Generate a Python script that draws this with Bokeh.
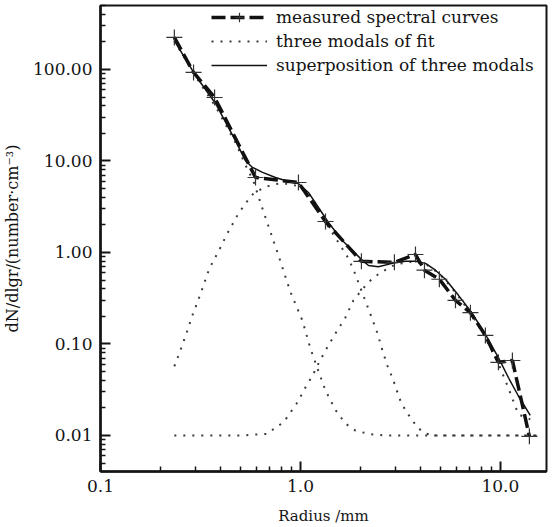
from bokeh.plotting import figure
from bokeh.models import FixedTicker, PrintfTickFormatter, Legend, LegendItem
from bokeh.embed import file_html
from bokeh.resources import INLINE

# ---- data ----
radius_measured = [0.234, 0.292, 0.372, 0.596, 0.977, 1.334, 2.018, 2.95, 3.76, 4.17,
                   4.95, 5.96, 7.08, 8.41, 9.77, 11.48, 13.96]
dn_measured = [224, 92.7, 49.4, 6.6, 5.82, 2.18, 0.80, 0.78, 0.95, 0.64,
               0.51, 0.30, 0.22, 0.124, 0.063, 0.066, 0.0098]

radius_mode1 = [0.234, 0.2985, 0.376, 0.473, 0.531, 0.582, 0.653, 0.776, 0.891, 1.023,
                1.122, 1.216, 1.334, 1.496, 1.679, 1.884, 2.24, 2.66, 16.0]
dn_mode1 = [205, 84, 39.4, 15.9, 9.0, 6.0, 2.8, 0.93, 0.37, 0.18,
            0.089, 0.054, 0.031, 0.019, 0.0135, 0.0113, 0.0103, 0.0100, 0.0100]

radius_mode2 = [0.234, 0.251, 0.272, 0.288, 0.305, 0.324, 0.343, 0.367, 0.385, 0.43,
                0.49, 0.54, 0.582, 0.653, 0.724, 0.80, 0.88, 0.977, 1.096, 1.23,
                1.334, 1.48, 1.62, 1.738, 1.88, 2.04, 2.19, 2.43, 2.57, 2.72,
                2.88, 3.16, 3.35, 3.63, 3.85, 4.22, 4.73, 16.0]
dn_mode2 = [0.057, 0.085, 0.14, 0.205, 0.284, 0.41, 0.59, 0.82, 0.98, 1.6,
            2.67, 3.6, 4.4, 5.1, 5.5, 5.7, 5.6, 5.3, 4.4, 3.1,
            2.13, 1.5, 1.1, 0.86, 0.58, 0.36, 0.24, 0.13, 0.085, 0.058,
            0.043, 0.024, 0.0188, 0.0146, 0.0122, 0.0105, 0.0100, 0.0100]

radius_mode3 = [0.234, 0.5, 0.684, 0.75, 0.822, 0.871, 0.966, 1.059, 1.148, 1.23,
                1.334, 1.496, 1.679, 1.84, 2.16, 2.32, 2.51, 2.98, 3.55, 4.22,
                4.73, 5.31, 6.17, 7.24, 8.41, 9.77, 10.96, 12.3, 14.1]
dn_mode3 = [0.0100, 0.0100, 0.0104, 0.0122, 0.0139, 0.0166, 0.023, 0.0335, 0.045, 0.061,
            0.085, 0.13, 0.195, 0.30, 0.46, 0.53, 0.60, 0.74, 0.79, 0.75,
            0.63, 0.50, 0.33, 0.205, 0.117, 0.061, 0.033, 0.017, 0.0150]

radius_sup = [0.234, 0.2985, 0.376, 0.473, 0.531, 0.575, 0.646, 0.75, 0.871, 0.977,
              1.096, 1.23, 1.38, 1.62, 1.82, 2.04, 2.19, 2.45, 2.88, 3.35,
              3.76, 4.22, 4.73, 5.31, 6.17, 7.24, 8.41, 9.77, 10.96, 12.3, 14.1]
dn_sup = [207, 86, 42.5, 16.7, 10.1, 8.5, 7.5, 6.6, 5.97, 5.68,
          4.53, 3.1, 2.13, 1.35, 1.05, 0.82, 0.72, 0.70, 0.76, 0.80,
          0.80, 0.76, 0.64, 0.51, 0.34, 0.215, 0.127, 0.071, 0.043, 0.027, 0.0166]

y_major = [0.01, 0.1, 1, 10, 100]
x_major = [0.1, 1, 10]
legend_labels = ["measured spectral curves", "three modals of fit",
                 "superposition of three modals"]
x_title = "Radius /mm"
y_title = "dN/dlgr/(number\u00b7cm\u207b\u00b3)"

FONT = "DejaVu Serif"
INK = "#141414"
X0, X1 = 0.1, 17.0
Y0, Y1 = 0.00404, 500.0
FW, FH = 446, 466

p = figure(x_axis_type="log", y_axis_type="log",
           x_range=(X0, X1), y_range=(Y0, Y1),
           frame_width=FW, frame_height=FH,
           min_border_left=97, min_border_right=10, min_border_top=5, min_border_bottom=56,
           output_backend="svg", toolbar_location=None)

p.xgrid.visible = False
p.ygrid.visible = False
p.outline_line_color = INK
p.outline_line_width = 2

dot_style = dict(line_color="#3a3a3a", line_width=2, line_dash="2 7")
r_m1 = p.line(radius_mode1, dn_mode1, **dot_style)
r_m2 = p.line(radius_mode2, dn_mode2, **dot_style)
r_m3 = p.line(radius_mode3, dn_mode3, **dot_style)

r_sup = p.line(radius_sup, dn_sup, line_color="#111111", line_width=1.5)

r_meas = p.line(radius_measured, dn_measured, line_color="#111111", line_width=3.5,
                line_dash="14 5")
r_pts = p.scatter(radius_measured, dn_measured, marker="cross", size=16,
                  line_color="#333333", line_width=1.2)

# axes with inward ticks
minor_y = [k * 10.0 ** d for d in range(-3, 3) for k in range(2, 10)]
minor_x = [k * 10.0 ** d for d in range(-1, 2) for k in range(2, 10)]
p.yaxis.ticker = FixedTicker(ticks=y_major, minor_ticks=minor_y)
p.xaxis.ticker = FixedTicker(ticks=x_major, minor_ticks=minor_x)
p.yaxis.formatter = PrintfTickFormatter(format="%.2f")
p.xaxis.formatter = PrintfTickFormatter(format="%.1f")

for ax in (p.xaxis, p.yaxis):
    ax.axis_line_width = 2.5
    ax.axis_line_color = INK
    ax.major_tick_in = 10
    ax.major_tick_out = 0
    ax.minor_tick_in = 5
    ax.minor_tick_out = 0
    ax.major_tick_line_width = 2
    ax.minor_tick_line_width = 1.5
    ax.major_tick_line_color = INK
    ax.minor_tick_line_color = INK
    ax.major_label_text_font = FONT
    ax.major_label_text_font_size = "17px"
    ax.major_label_text_color = INK
    ax.major_label_standoff = 8
    ax.axis_label_text_font = FONT
    ax.axis_label_text_font_style = "normal"
    ax.axis_label_text_color = INK

p.xaxis.axis_label = x_title
p.xaxis.axis_label_text_font_size = "15px"
p.xaxis.axis_label_standoff = 12
p.yaxis.axis_label = y_title
p.yaxis.axis_label_text_font_size = "16px"
p.yaxis.axis_label_standoff = 8

legend = Legend(items=[
    LegendItem(label=legend_labels[0], renderers=[r_meas, r_pts]),
    LegendItem(label=legend_labels[1], renderers=[r_m1]),
    LegendItem(label=legend_labels[2], renderers=[r_sup]),
], location=(111, FH - 72))
legend.glyph_width = 56
legend.glyph_height = 24
legend.label_height = 24
legend.label_standoff = 9
legend.padding = 0
legend.spacing = 0
legend.margin = 0
legend.border_line_alpha = 0
legend.background_fill_alpha = 0
legend.label_text_font = FONT
legend.label_text_font_size = "17px"
legend.label_text_color = INK
p.add_layout(legend)

open("out.html", "w").write(file_html(p, INLINE))
